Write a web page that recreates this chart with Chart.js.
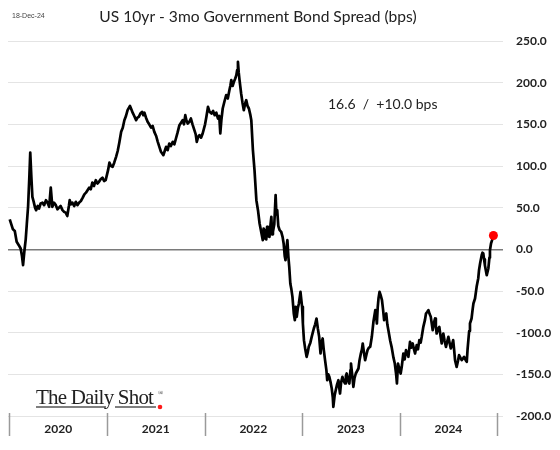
<!DOCTYPE html>
<html>
<head>
<meta charset="utf-8">
<script src="https://cdn.jsdelivr.net/npm/chart.js@4.4.1/dist/chart.umd.min.js"></script>
<style>
  html, body { margin: 0; padding: 0; background: #fff; }
  #wrap { position: relative; width: 560px; height: 450px; }
</style>
</head>
<body>
<div id="wrap"><canvas id="chart"></canvas></div>
<script>
/* US 10yr - 3mo spread, weekly-ish readings (bps) */

const dates = [
  '2020-01-02','2020-01-08','2020-01-14','2020-01-21','2020-01-28','2020-02-05','2020-02-12','2020-02-17','2020-02-21','2020-02-26',
  '2020-03-02','2020-03-06','2020-03-11','2020-03-16','2020-03-19','2020-03-23','2020-03-27','2020-04-01','2020-04-06','2020-04-10',
  '2020-04-16','2020-04-21','2020-04-27','2020-05-04','2020-05-10','2020-05-17','2020-05-23','2020-05-29','2020-06-04','2020-06-10',
  '2020-06-16','2020-06-23','2020-06-29','2020-07-05','2020-07-11','2020-07-18','2020-07-24','2020-07-30','2020-08-05','2020-08-11',
  '2020-08-14','2020-08-19','2020-08-24','2020-08-31','2020-09-06','2020-09-12','2020-09-18','2020-09-25','2020-10-02','2020-10-08',
  '2020-10-14','2020-10-20','2020-10-26','2020-11-01','2020-11-07','2020-11-13','2020-11-20','2020-11-26','2020-12-02','2020-12-08',
  '2020-12-15','2020-12-21','2020-12-27',
  '2021-01-05','2021-01-10','2021-01-16','2021-01-22','2021-01-28','2021-02-04','2021-02-10','2021-02-16','2021-02-23','2021-03-01',
  '2021-03-07','2021-03-13','2021-03-19','2021-03-28','2021-04-02','2021-04-07','2021-04-13','2021-04-20','2021-04-25','2021-04-30',
  '2021-05-06','2021-05-12','2021-05-17','2021-05-21','2021-05-27','2021-06-02','2021-06-08','2021-06-15','2021-06-21','2021-06-27',
  '2021-07-04','2021-07-10','2021-07-16','2021-07-22','2021-07-31','2021-08-05','2021-08-10','2021-08-16','2021-08-22','2021-08-28',
  '2021-09-04','2021-09-10','2021-09-16','2021-09-22','2021-09-29','2021-10-05','2021-10-11','2021-10-16','2021-10-21','2021-10-25',
  '2021-10-30','2021-11-05','2021-11-11','2021-11-17','2021-11-24','2021-11-29','2021-12-03','2021-12-08','2021-12-13','2021-12-19',
  '2021-12-25',
  '2022-01-03','2022-01-08','2022-01-14','2022-01-20','2022-01-27','2022-02-02','2022-02-08','2022-02-14','2022-02-20','2022-02-25',
  '2022-03-01','2022-03-05','2022-03-10','2022-03-17','2022-03-23','2022-03-29','2022-04-04','2022-04-08','2022-04-11','2022-04-16',
  '2022-04-21','2022-04-26','2022-04-30','2022-05-03','2022-05-06','2022-05-09','2022-05-12','2022-05-18','2022-05-23','2022-05-28',
  '2022-06-02','2022-06-06','2022-06-11','2022-06-16','2022-06-21','2022-06-25','2022-07-01','2022-07-07','2022-07-14','2022-07-20',
  '2022-07-26','2022-08-01','2022-08-07','2022-08-10','2022-08-14','2022-08-17','2022-08-20','2022-08-23','2022-08-26','2022-09-01',
  '2022-09-05','2022-09-08','2022-09-11','2022-09-14','2022-09-19','2022-09-24','2022-09-27','2022-09-30','2022-10-04','2022-10-09',
  '2022-10-15','2022-10-20','2022-10-24','2022-10-28','2022-10-31','2022-11-04','2022-11-07','2022-11-11','2022-11-14','2022-11-18',
  '2022-11-22','2022-11-26','2022-12-01','2022-12-05','2022-12-08','2022-12-12','2022-12-16','2022-12-20','2022-12-26',
  '2023-01-01','2023-01-04','2023-01-08','2023-01-13','2023-01-18','2023-01-22','2023-01-26','2023-02-01','2023-02-06','2023-02-10',
  '2023-02-14','2023-02-19','2023-02-24','2023-03-01','2023-03-06','2023-03-11','2023-03-15','2023-03-19','2023-03-23','2023-03-28',
  '2023-04-02','2023-04-05','2023-04-09','2023-04-13','2023-04-18','2023-04-22','2023-04-26','2023-04-28','2023-05-03','2023-05-07',
  '2023-05-12','2023-05-17','2023-05-20','2023-05-23','2023-05-27','2023-06-01','2023-06-06','2023-06-11','2023-06-14','2023-06-17',
  '2023-06-22','2023-06-27','2023-07-01','2023-07-03','2023-07-08','2023-07-12','2023-07-16','2023-07-21','2023-07-26','2023-07-31',
  '2023-08-04','2023-08-09','2023-08-13','2023-08-16','2023-08-21','2023-08-25','2023-08-30','2023-09-03','2023-09-08','2023-09-13',
  '2023-09-19','2023-09-25','2023-10-02','2023-10-05','2023-10-08','2023-10-11','2023-10-14','2023-10-18','2023-10-22','2023-10-27',
  '2023-10-31','2023-11-04','2023-11-08','2023-11-12','2023-11-16','2023-11-20','2023-11-27','2023-12-02','2023-12-09','2023-12-14',
  '2023-12-19','2023-12-22','2023-12-26',
  '2024-01-01','2024-01-05','2024-01-09','2024-01-15','2024-01-20','2024-01-25','2024-01-30','2024-02-03','2024-02-09','2024-02-14',
  '2024-02-19','2024-02-24','2024-02-28','2024-03-05','2024-03-10','2024-03-15','2024-03-20','2024-03-24','2024-03-30','2024-04-05',
  '2024-04-09','2024-04-14','2024-04-18','2024-04-23','2024-04-27','2024-05-01','2024-05-04','2024-05-09','2024-05-13','2024-05-16',
  '2024-05-19','2024-05-24','2024-05-29','2024-06-03','2024-06-07','2024-06-10','2024-06-13','2024-06-18','2024-06-23','2024-06-28',
  '2024-07-02','2024-07-07','2024-07-11','2024-07-16','2024-07-20','2024-07-24','2024-07-27','2024-08-02','2024-08-07','2024-08-11',
  '2024-08-16','2024-08-21','2024-08-26','2024-08-30','2024-09-05','2024-09-09','2024-09-12','2024-09-15','2024-09-18','2024-09-21',
  '2024-09-27','2024-10-01','2024-10-04','2024-10-10','2024-10-16','2024-10-22','2024-10-25','2024-10-29','2024-11-04','2024-11-07',
  '2024-11-10','2024-11-13','2024-11-16','2024-11-20','2024-11-23','2024-11-29','2024-12-03','2024-12-05','2024-12-09','2024-12-13',
  '2024-12-18'
];

const spread = [
  36, 30, 24, 22, 9, 5, 1, -8, -19, -2,
  12, 30, 52, 90, 116, 88, 63, 57, 50, 47,
  52, 49, 55, 56, 53, 59, 56, 51, 74, 51,
  56, 53, 48, 50, 52, 47, 45, 44, 40, 52,
  59, 54, 56, 52, 57, 53, 56, 58, 62, 66,
  68, 71, 74, 72, 80, 76, 83, 79, 81, 84,
  86, 82, 83,
  95, 104, 100, 99, 104, 111, 118, 128, 141, 146,
  155, 160, 167, 172, 168, 164, 160, 155, 158, 159,
  163, 165, 161, 164, 158, 153, 150, 146, 148, 141,
  136, 129, 123, 117, 113, 118, 123, 119, 127, 124,
  129, 126, 133, 140, 149, 152, 155, 150, 161, 155,
  151, 153, 157, 150, 143, 138, 129, 135, 137, 134,
  139,
  150, 159, 171, 165, 163, 166, 161, 164, 157, 160,
  139, 155, 169, 178, 185, 181, 191, 197, 203, 196,
  201, 205, 209, 215, 225, 212, 203, 187, 176, 167,
  175, 179, 172, 169, 162, 155, 119, 95, 59, 47,
  31, 21, 11, 25, 13, 23, 12, 27, 16, 15,
  30, 39, 18, 21, 30, 65, 42, 47, 28, 23,
  21, 15, 7, -8, -13, 3, 11, -10, -21, -41,
  -48, -57, -77, -85, -69, -81, -71, -65, -51,
  -69, -89, -109, -120, -129, -124, -117, -112, -105, -100,
  -95, -90, -83, -95, -105, -125, -112, -107, -120, -133,
  -145, -157, -150, -153, -160, -167, -178, -189, -175, -169,
  -162, -157, -166, -173, -160, -153, -158, -161, -152, -149,
  -157, -161, -145, -137, -152, -165, -155, -149, -146, -143,
  -133, -125, -120, -113, -125, -133, -126, -121, -118, -117,
  -105, -87, -73, -80, -89, -70, -59, -51, -55, -61,
  -72, -85, -80, -77, -90, -97, -110, -117, -130, -137,
  -150, -161, -137,
  -145, -149, -141, -125, -132, -121, -125, -129, -111, -118,
  -113, -120, -125, -115, -120, -109, -112, -105, -93, -85,
  -77, -75, -73, -78, -81, -90, -97, -88, -83, -92,
  -101, -96, -93, -105, -113, -106, -101, -110, -117, -110,
  -105, -113, -119, -114, -109, -122, -133, -141, -134, -127,
  -130, -133, -131, -129, -133, -135, -120, -109, -98, -89,
  -83, -72, -65, -59, -45, -35, -25, -17, -7, -4,
  -5, -12, -19, -26, -31, -23, -10, -1, 7, 11,
  16.6
];

const yearTicks = [2020, 2021, 2022, 2023, 2024];
const yearBounds = [2020, 2021, 2022, 2023, 2024, 2025];

const chartTitle = 'US 10yr - 3mo Government Bond Spread (bps)';
const dateStamp = '18-Dec-24';
const lastNote = '16.6  /  +10.0 bps';

// date string -> decimal year, so the x axis runs on a linear scale
function toYear(s) {
  const [y, m, d] = s.split('-').map(Number);
  const start = Date.UTC(y, 0, 1);
  const end = Date.UTC(y + 1, 0, 1);
  return y + (Date.UTC(y, m - 1, d) - start) / (end - start);
}

const points = dates.map((d, i) => ({ x: toYear(d), y: spread[i] }));
const lastIdx = points.length - 1;

// texts, year separators and the logo
const decorations = {
  id: 'decorations',
  afterDraw(chart) {
    const ctx = chart.ctx;
    const xs = chart.scales.x;
    ctx.save();

    // year separators under the plot
    ctx.strokeStyle = '#9a9a9a';
    ctx.lineWidth = 1.5;
    yearBounds.forEach(yr => {
      const px = Math.round(xs.getPixelForValue(yr)) + 0.5;
      ctx.beginPath();
      ctx.moveTo(px, 413);
      ctx.lineTo(px, 436);
      ctx.stroke();
    });

    // date stamp
    ctx.fillStyle = '#444';
    ctx.font = '7px "Liberation Sans", sans-serif';
    ctx.textBaseline = 'middle';
    ctx.textAlign = 'left';
    ctx.fillText(dateStamp, 12, 16);

    // title
    ctx.fillStyle = '#222';
    ctx.font = '15.6px Lato, sans-serif';
    ctx.textAlign = 'center';
    ctx.textBaseline = 'alphabetic';
    ctx.fillText(chartTitle, 258, 22);

    // last value note
    ctx.font = '14px Lato, sans-serif';
    ctx.textAlign = 'left';
    ctx.fillText(lastNote, 328, 109);

    // logo
    ctx.fillStyle = '#222';
    ctx.font = '21px "Liberation Serif", serif';
    ctx.letterSpacing = '-0.8px';
    ctx.fillText('The Daily Shot', 36, 404);
    ctx.letterSpacing = '0px';
    ctx.font = '7px "Liberation Serif", serif';
    ctx.fillText('®', 158, 395);
    ctx.strokeStyle = '#555';
    ctx.lineWidth = 1.4;
    ctx.beginPath();
    ctx.moveTo(36, 407); ctx.lineTo(106, 407);
    ctx.moveTo(115, 407); ctx.lineTo(156, 407);
    ctx.stroke();
    ctx.fillStyle = '#ff1a1a';
    ctx.beginPath();
    ctx.arc(160, 407, 2.3, 0, Math.PI * 2);
    ctx.fill();

    ctx.restore();
  }
};

new Chart(document.getElementById('chart'), {
  type: 'line',
  data: {
    datasets: [{
      data: points,
      borderColor: '#000',
      borderWidth: 2.7,
      borderJoinStyle: 'round',
      tension: 0,
      pointRadius: ctx => (ctx.dataIndex === lastIdx ? 4.5 : 0),
      pointBackgroundColor: '#ff0000',
      pointBorderColor: '#ff0000',
      pointBorderWidth: 0,
      fill: false
    }]
  },
  options: {
    responsive: true,
    maintainAspectRatio: false,
    animation: false,
    layout: { padding: { left: 8, top: 41, right: 0, bottom: 0 } },
    plugins: {
      legend: { display: false },
      tooltip: { enabled: false }
    },
    scales: {
      x: {
        type: 'linear',
        min: 2019.985,
        max: 2025.06,
        grid: { display: false, drawTicks: false },
        border: { display: false },
        afterBuildTicks(scale) {
          scale.ticks = yearTicks.map(y => ({ value: y + 0.5 }));
        },
        afterFit(scale) { scale.height = 34; },
        ticks: {
          autoSkip: false,
          maxRotation: 0,
          padding: 6,
          color: '#222',
          font: { family: 'Lato', size: 12, weight: 'bold' },
          callback: v => String(Math.floor(v))
        }
      },
      y: {
        position: 'right',
        min: -200,
        max: 250,
        grid: {
          drawTicks: false,
          color: ctx => (ctx.tick && ctx.tick.value === 0 ? '#7a7a7a' : '#e4e4e4'),
          lineWidth: ctx => (ctx.tick && ctx.tick.value === 0 ? 1.6 : 1)
        },
        border: { display: false },
        afterFit(scale) { scale.width = 57; },
        ticks: {
          stepSize: 50,
          padding: 13,
          color: '#222',
          font: { family: 'Lato', size: 12, weight: 'bold' },
          callback: v => v.toFixed(1)
        }
      }
    }
  },
  plugins: [decorations]
});
</script>
</body>
</html>
